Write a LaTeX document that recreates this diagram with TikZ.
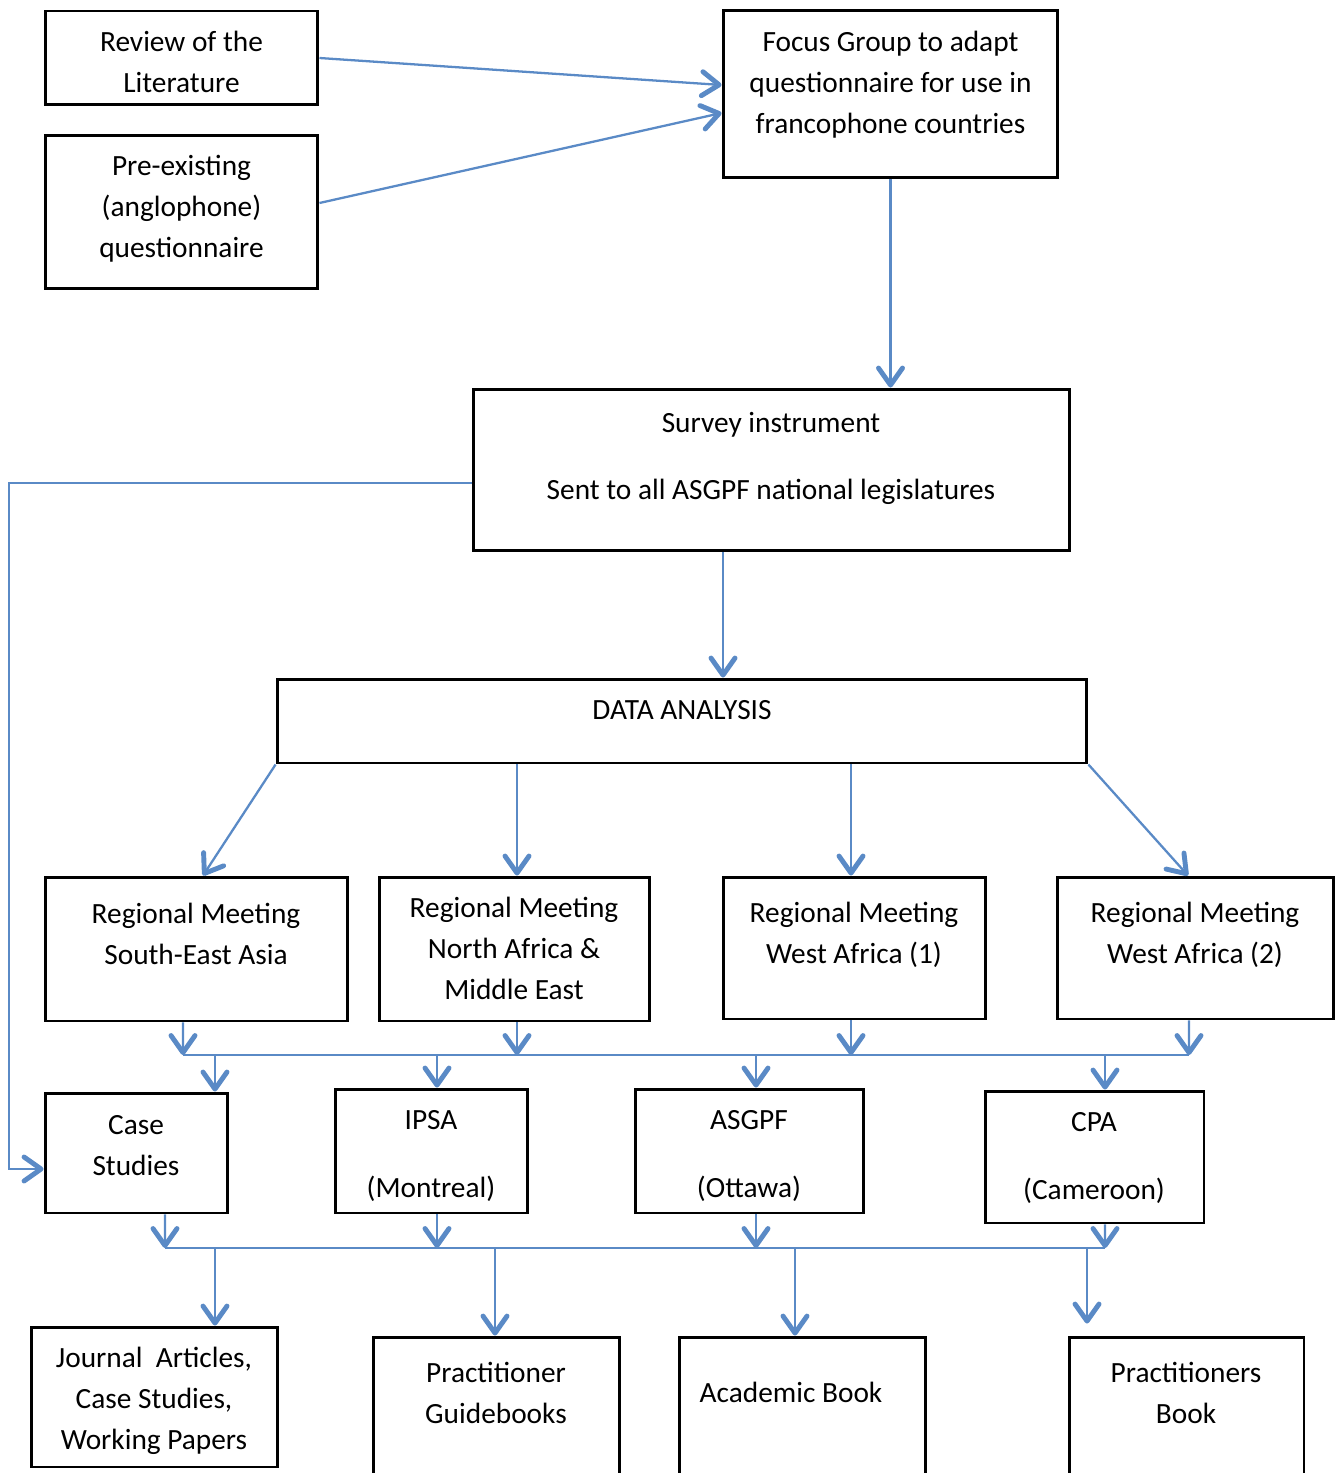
\documentclass[tikz,border=0pt]{standalone}
\usepackage{fontspec}
\setmainfont{Carlito}
\usepackage{xcolor}
\usepackage{tikz}
\usetikzlibrary{positioning,arrows.meta,calc}
\definecolor{flow}{HTML}{5A8AC6}
\tikzset{
  box/.style={rectangle,draw=black,line width=1.7pt,inner sep=0pt},
  lbl/.style={align=center,inner sep=0pt,font=\fontsize{16.7pt}{23.3pt}\selectfont},
  fl/.style={draw=flow,line width=1.3pt,
    -{Straight Barb[length=3.4mm,width=4.8mm,line width=2.8pt,round]}},
  bus/.style={draw=flow,line width=1.1pt},
}

\begin{document}
\begin{tikzpicture}[x=0.02cm,y=-0.02cm]
  \useasboundingbox (0,0) rectangle (1338,1473);
  \clip (0,0) rectangle (1338,1473);
  % boxes
  \node[box,minimum width=5.46cm,minimum height=1.88cm] (lit) at (181.5,58) {};
  \node[box,minimum width=5.46cm,minimum height=3.08cm] (pre) at (181.5,212) {};
  \node[box,minimum width=6.70cm,minimum height=3.36cm] (focus) at (890.5,94) {};
  \node[box,minimum width=11.94cm,minimum height=3.24cm] (survey) at (771.5,470) {};
  \node[box,minimum width=16.2cm,minimum height=1.68cm] (data) at (682,721) {};
  \node[box,minimum width=6.06cm,minimum height=2.88cm] (rm1) at (196.5,949) {};
  \node[box,minimum width=5.42cm,minimum height=2.88cm] (rm2) at (514.5,949) {};
  \node[box,minimum width=5.26cm,minimum height=2.84cm] (rm3) at (854.5,948) {};
  \node[box,minimum width=5.54cm,minimum height=2.84cm] (rm4) at (1195.5,948) {};
  \node[box,minimum width=3.66cm,minimum height=2.40cm] (case) at (136.5,1153) {};
  \node[box,minimum width=3.86cm,minimum height=2.48cm] (ipsa) at (431.5,1151) {};
  \node[box,minimum width=4.58cm,minimum height=2.48cm] (asgpf) at (749.5,1151) {};
  \node[box,minimum width=4.38cm,minimum height=2.64cm] (cpa) at (1094.5,1157) {};
  \node[box,minimum width=4.94cm,minimum height=2.80cm] (jour) at (154.5,1397) {};
  \node[box,minimum width=4.94cm,minimum height=3.26cm] (guide) at (496.5,1418.5) {};
  \node[box,minimum width=4.94cm,minimum height=3.26cm] (acad) at (802.5,1418.5) {};
  \node[box,minimum width=4.70cm,minimum height=3.26cm] (pbook) at (1186.5,1418.5) {};
  % texts
  \node[lbl] (lit-t) at (181.5,61.5) {Review of the\\Literature};
  \node[lbl] (pre-t) at (181.5,209) {Pre-existing\\(anglophone)\\questionnaire};
  \node[lbl] (focus-t) at (890.5,85) {Focus Group to adapt\\questionnaire for use in\\francophone countries};
  \node[lbl] (survey-t) at (771,458.5) {Survey instrument\\[0.52cm]Sent to all ASGPF national legislatures};
  \node[lbl] (data-t) at (682,710) {DATA ANALYSIS};
  \node[lbl] (rm1-t) at (196,934) {Regional Meeting\\South-East Asia};
  \node[lbl] (rm2-t) at (514,948) {Regional Meeting\\North Africa \&\\Middle East};
  \node[lbl] (rm3-t) at (854,935) {Regional Meeting\\West Africa (1)};
  \node[lbl] (rm4-t) at (1195,935) {Regional Meeting\\West Africa (2)};
  \node[lbl] (case-t) at (136,1146) {Case\\Studies};
  \node[lbl] (ipsa-t) at (431,1156) {IPSA\\[0.54cm](Montreal)};
  \node[lbl] (asgpf-t) at (749,1156) {ASGPF\\[0.54cm](Ottawa)};
  \node[lbl] (cpa-t) at (1094,1158) {CPA\\[0.54cm](Cameroon)};
  \node[lbl] (jour-t) at (154,1401) {Journal\ \ Articles,\\Case Studies,\\Working Papers};
  \node[lbl] (guide-t) at (496,1392.5) {Practitioner\\Guidebooks};
  \node[lbl] (acad-t) at (791,1392) {Academic Book};
  \node[lbl] (pbook-t) at (1186,1392.5) {Practitioners\\Book};
  % bus lines
  \coordinate (lft) at (9,0);
  \coordinate (busA-w) at (183,1055);
  \coordinate (busA-e) at (1189,1055);
  \coordinate (busB-w) at (165,1248);
  \coordinate (busB-e) at (1105,1248);
  \draw[bus] (busA-w) -- (busA-e);
  \draw[bus] (busB-w) -- (busB-e);
  % top part
  \draw[fl] (lit.east) -- ([yshift=.18cm]focus.west);
  \draw[fl] ([yshift=.18cm]pre.east) -- ([yshift=-.38cm]focus.west);
  \draw[fl] (focus.south) -- (focus.south |- survey.north);
  \draw[fl] ([xshift=-.97cm]survey.south) -- ([xshift=-.97cm]survey.south |- data.north);
  \draw[fl] ([yshift=-.26cm]survey.west) -- ([yshift=-.26cm]survey.west -| lft) |- ([yshift=-.32cm]case.west);
  % data analysis to meetings
  \draw[fl] (data.south west) -- ([xshift=.13cm]rm1.north);
  \draw[fl] ([xshift=.05cm]rm2.north |- data.south) -- ([xshift=.05cm]rm2.north);
  \draw[fl] ([xshift=-.07cm]rm3.north |- data.south) -- ([xshift=-.07cm]rm3.north);
  \draw[fl] (data.south east) -- ([xshift=-.15cm]rm4.north);
  % meetings to first bus
  \draw[fl] ([xshift=-.27cm]rm1.south) -- (busA-w);
  \draw[fl] ([xshift=.05cm]rm2.south) -- ([xshift=.05cm]rm2.south |- busA-w);
  \draw[fl] ([xshift=-.07cm]rm3.south) -- ([xshift=-.07cm]rm3.south |- busA-w);
  \draw[fl] ([xshift=-.13cm]rm4.south) -- (busA-e);
  % first bus to conferences
  \draw[fl] ([xshift=1.57cm]case.north |- busA-w) -- ([xshift=1.57cm]case.north);
  \draw[fl] ([xshift=.11cm]ipsa.north |- busA-w) -- ([xshift=.11cm]ipsa.north);
  \draw[fl] ([xshift=.13cm]asgpf.north |- busA-w) -- ([xshift=.13cm]asgpf.north);
  \draw[fl] ([xshift=.21cm]cpa.north |- busA-w) -- ([xshift=.21cm]cpa.north);
  % conferences to second bus
  \draw[fl] ([xshift=.57cm]case.south) -- (busB-w);
  \draw[fl] ([xshift=.11cm]ipsa.south) -- ([xshift=.11cm]ipsa.south |- busB-w);
  \draw[fl] ([xshift=.13cm]asgpf.south) -- ([xshift=.13cm]asgpf.south |- busB-w);
  \draw[fl] ([xshift=.21cm]cpa.south) -- (busB-e);
  % second bus to outputs
  \draw[fl] ([xshift=1.21cm]jour.north |- busB-w) -- ([xshift=1.21cm]jour.north);
  \draw[fl] ([xshift=-.03cm]guide.north |- busB-w) -- ([xshift=-.03cm]guide.north);
  \draw[fl] ([xshift=-.15cm]acad.north |- busB-w) -- ([xshift=-.15cm]acad.north);
  \draw[fl] ([xshift=-1.99cm]pbook.north |- busB-w) -- ([xshift=-1.99cm,yshift=.24cm]pbook.north);
\end{tikzpicture}
\end{document}
